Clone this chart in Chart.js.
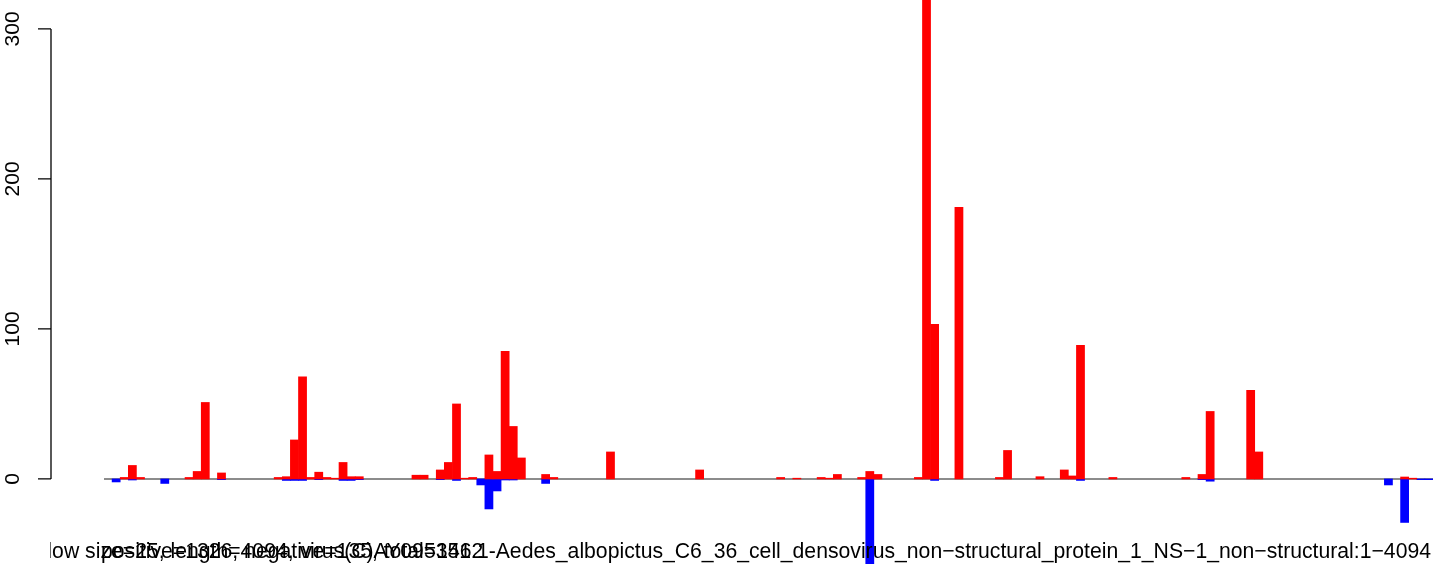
<!DOCTYPE html>
<html>
<head>
<meta charset="utf-8">
<script src="https://cdn.jsdelivr.net/npm/chart.js@4.4.1/dist/chart.umd.min.js"></script>
<style>
  html, body { margin: 0; padding: 0; background: #fff; }
  canvas { display: block; }
</style>
</head>
<body>
<canvas id="windowChart" width="1433" height="564"></canvas>
<script>
// ======= DATA : one bin per 25 nt window (164 bins, length 4094) =======
const binCount = 164;
const bins = Array.from({ length: binCount }, (_, i) => i + 1);

// positive strand counts, bin index -> value
const positiveHits = {
  2: 1, 3: 9, 4: 1, 10: 1, 11: 5, 12: 51, 14: 4,
  21: 1, 22: 1.5, 23: 26, 24: 68, 25: 1, 26: 4.5, 27: 1, 28: 0.5, 29: 11, 30: 1.5, 31: 1.5,
  38: 2.5, 39: 2.5, 41: 6, 42: 11, 43: 50, 44: 0.5, 45: 1, 47: 16, 48: 5, 49: 85, 50: 35, 51: 14,
  54: 3, 55: 1, 62: 18, 73: 6, 83: 1, 85: 0.5, 88: 1, 89: 0.5, 90: 3, 93: 1, 94: 5, 95: 3,
  100: 1, 101: 340, 102: 103, 105: 181, 110: 1, 111: 19, 115: 1.5, 118: 6, 119: 2, 120: 89,
  124: 1, 133: 1, 135: 3, 136: 45, 141: 59, 142: 18, 160: 1.3, 161: 0.5
};

// negative strand counts
const negativeHits = {
  1: -2, 3: -0.7, 7: -3, 14: -0.5, 22: -1, 23: -1, 24: -1, 26: -0.5, 29: -1, 30: -1, 31: -0.5,
  41: -0.5, 43: -1, 46: -4, 47: -20, 48: -8, 49: -0.7, 50: -0.7, 54: -3,
  94: -60, 102: -1, 120: -1, 135: -0.5, 136: -1.5, 158: -4, 160: -29, 162: -0.5, 163: -0.5
};

const yTicks = [0, 100, 200, 300];
const labelMain = "window size=25, length=4094, virus(C)AY095351.1-Aedes_albopictus_C6_36_cell_densovirus_non\u2212structural_protein_1_NS\u22121_non\u2212structural:1\u22124094";
const labelCounts = "positive=1326, negative=135, total=1462";

const posValues = bins.map((b, i) => positiveHits[i] ?? null);
const negValues = bins.map((b, i) => negativeHits[i] ?? null);

// ======= PLUGIN : baseline, R-style y axis, bottom labels =======
const rStyle = {
  id: "rStyle",
  beforeDatasetsDraw(chart) {
    const { ctx, chartArea, scales } = chart;
    const y0 = scales.y.getPixelForValue(0);
    ctx.save();
    ctx.strokeStyle = "#8c8c8c";
    ctx.lineWidth = 2;
    ctx.beginPath();
    ctx.moveTo(chartArea.left, y0);
    ctx.lineTo(chartArea.right, y0);
    ctx.stroke();
    ctx.restore();
  },
  afterDraw(chart) {
    const { ctx, scales } = chart;
    const y = scales.y;
    const axisX = 51;
    ctx.save();
    ctx.strokeStyle = "#000";
    ctx.lineWidth = 1.3;
    ctx.beginPath();
    ctx.moveTo(axisX, y.getPixelForValue(yTicks[0]));
    ctx.lineTo(axisX, y.getPixelForValue(yTicks[yTicks.length - 1]));
    yTicks.forEach(t => {
      const py = y.getPixelForValue(t);
      ctx.moveTo(axisX, py);
      ctx.lineTo(axisX - 13, py);
    });
    ctx.stroke();

    ctx.fillStyle = "#000";
    ctx.font = "21px 'Liberation Sans', Arial, sans-serif";
    ctx.textAlign = "center";
    ctx.textBaseline = "middle";
    yTicks.forEach(t => {
      ctx.save();
      ctx.translate(13, y.getPixelForValue(t));
      ctx.rotate(-Math.PI / 2);
      ctx.fillText(String(t), 0, 0);
      ctx.restore();
    });

    // bottom labels (overlapping, as in the source)
    ctx.beginPath();
    ctx.rect(50, 0, chart.width - 50, chart.height);
    ctx.clip();
    ctx.font = "21.2px 'Liberation Sans', Arial, sans-serif";
    ctx.textBaseline = "alphabetic";
    ctx.textAlign = "right";
    ctx.fillText(labelMain, 1431, 558);
    ctx.textAlign = "left";
    ctx.fillText(labelCounts, 101, 558);
    ctx.restore();
  }
};

const canvas = document.getElementById("windowChart");
new Chart(canvas, {
  type: "bar",
  data: {
    labels: bins,
    datasets: [
      {
        label: "positive",
        data: posValues,
        backgroundColor: "#ff0000",
        borderWidth: 0,
        barPercentage: 1,
        categoryPercentage: 1,
        grouped: false
      },
      {
        label: "negative",
        data: negValues,
        backgroundColor: "#0000ff",
        borderWidth: 0,
        barPercentage: 1,
        categoryPercentage: 1,
        grouped: false
      }
    ]
  },
  options: {
    responsive: false,
    maintainAspectRatio: false,
    animation: false,
    devicePixelRatio: 1,
    layout: { padding: { left: 104, right: 0, top: 0, bottom: 0 } },
    plugins: {
      legend: { display: false },
      tooltip: { enabled: false }
    },
    scales: {
      x: { display: false, offset: true },
      y: { display: false, min: -56.7, max: 319.3 }
    }
  },
  plugins: [rStyle]
});
</script>
</body>
</html>
